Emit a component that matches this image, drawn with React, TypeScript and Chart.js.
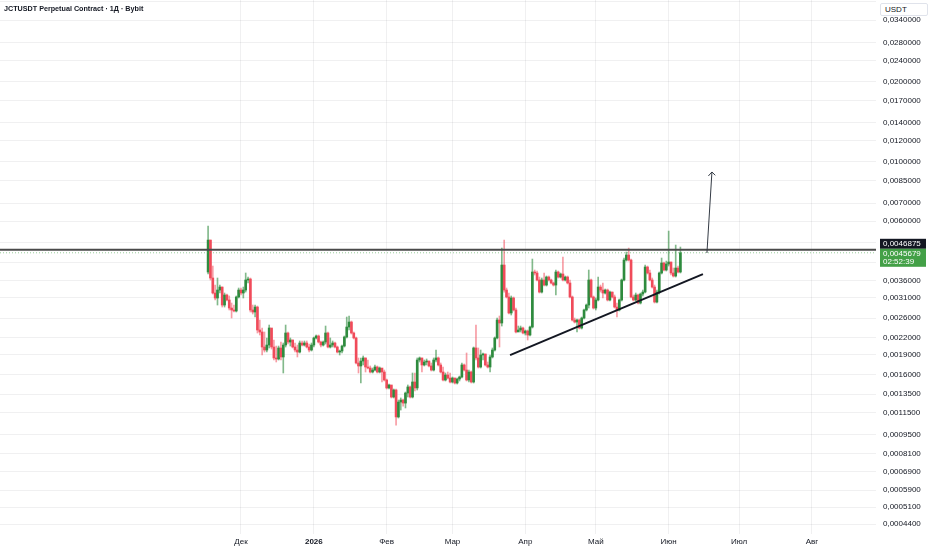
import React, { useEffect, useRef } from 'react';
import { Chart, registerables } from 'chart.js';

Chart.register(...registerables);

// ---- data ----
const firstDate = '2025-11-17';
const firstOpen = 0.00387;

const closes = [
  0.005098, 0.003675, 0.003229, 0.003093, 0.003313, 0.0034, 0.002911, 0.003174, 0.00304, 0.002837,
  0.002789, 0.002765, 0.00312, 0.003313, 0.003229, 0.003313, 0.003612, 0.003643, 0.002789, 0.002741,
  0.002861, 0.002347, 0.002307, 0.002027, 0.001975, 0.002062, 0.002388, 0.002027, 0.001844, 0.001828,
  0.00201, 0.00186, 0.002062, 0.002287, 0.002116, 0.002153, 0.002027, 0.001975, 0.001941, 0.002098,
  0.002062, 0.002098, 0.002027, 0.001975, 0.002062, 0.002191, 0.002229, 0.002116, 0.002062, 0.002116,
  0.002287, 0.002027, 0.002062, 0.002098, 0.002027, 0.001941, 0.001958, 0.002044, 0.00221, 0.002408,
  0.002514, 0.002287, 0.002191, 0.001766, 0.001721, 0.001796, 0.001844, 0.001706, 0.001691, 0.001634,
  0.001662, 0.001706, 0.001634, 0.001691, 0.001634, 0.001525, 0.001424, 0.001461, 0.001317, 0.001399,
  0.001109, 0.001261, 0.001283, 0.00125, 0.001363, 0.001436, 0.001317, 0.001499, 0.001424, 0.001812,
  0.001844, 0.001736, 0.001781, 0.001796, 0.001721, 0.001662, 0.001812, 0.001844, 0.001736, 0.001634,
  0.001525, 0.001592, 0.001551, 0.001499, 0.001551, 0.001486, 0.001538, 0.001565, 0.001736, 0.001662,
  0.001525, 0.001634, 0.001499, 0.00201, 0.001844, 0.001706, 0.001892, 0.001908, 0.001736, 0.001706,
  0.00186, 0.001975, 0.002191, 0.002558, 0.002493, 0.00411, 0.003313, 0.00312, 0.002718, 0.003093,
  0.002789, 0.002307, 0.002347, 0.002388, 0.002287, 0.002327, 0.002248, 0.002408, 0.00387, 0.003837,
  0.003612, 0.003256, 0.003612, 0.003459, 0.003706, 0.003612, 0.00352, 0.003459, 0.00387, 0.003706,
  0.003804, 0.003612, 0.003706, 0.00352, 0.00312, 0.002558, 0.002514, 0.002558, 0.002388, 0.002603,
  0.002789, 0.002911, 0.003612, 0.00312, 0.002837, 0.00304, 0.0034, 0.003313, 0.003229, 0.003313,
  0.00304, 0.003256, 0.00312, 0.002861, 0.002789, 0.00304, 0.003612, 0.004291, 0.00448, 0.004291,
  0.00312, 0.00304, 0.003174, 0.002962, 0.003201, 0.003256, 0.00404, 0.003837, 0.003612, 0.0034,
  0.002988, 0.003256, 0.003837, 0.004182, 0.003937, 0.004146, 0.004218, 0.003837, 0.003739, 0.004005,
  0.00387, 0.0045679,
];

const highs = [
  0.005752, 0.005098, 0.004075, 0.003459, 0.003675, 0.003459, 0.0034, 0.003229, 0.003201, 0.003147,
  0.002962, 0.002911, 0.003147, 0.003371, 0.003371, 0.0034, 0.003837, 0.003706, 0.003675, 0.002911,
  0.002911, 0.002886, 0.002558, 0.002388, 0.002307, 0.002191, 0.00245, 0.002347, 0.002153, 0.002044,
  0.002044, 0.002116, 0.002098, 0.00245, 0.002307, 0.002191, 0.002153, 0.002098, 0.002062, 0.002135,
  0.002135, 0.002135, 0.002135, 0.00208, 0.002098, 0.00221, 0.002248, 0.002248, 0.002135, 0.002135,
  0.002429, 0.002307, 0.002191, 0.002135, 0.002116, 0.002044, 0.001975, 0.002062, 0.002229, 0.002625,
  0.002648, 0.002536, 0.002307, 0.00221, 0.001844, 0.001844, 0.001876, 0.001844, 0.001812, 0.001721,
  0.001691, 0.001736, 0.001721, 0.001706, 0.001677, 0.001662, 0.001538, 0.001473, 0.001448, 0.001411,
  0.001411, 0.001283, 0.001306, 0.001295, 0.001375, 0.001461, 0.001448, 0.00162, 0.00162, 0.001844,
  0.00186, 0.001844, 0.001812, 0.001828, 0.001796, 0.001766, 0.001844, 0.001975, 0.00186, 0.001766,
  0.001706, 0.00162, 0.001634, 0.00162, 0.001565, 0.001551, 0.001551, 0.001578, 0.001766, 0.001751,
  0.001925, 0.001662, 0.001648, 0.002027, 0.00245, 0.00201, 0.001975, 0.001925, 0.001908, 0.001781,
  0.001892, 0.00201, 0.00221, 0.002603, 0.002648, 0.004758, 0.005098, 0.003371, 0.003229, 0.003147,
  0.00312, 0.002837, 0.002429, 0.002429, 0.002408, 0.002347, 0.002347, 0.002429, 0.004328, 0.003937,
  0.003903, 0.003706, 0.003675, 0.003837, 0.003739, 0.003739, 0.003643, 0.00355, 0.003937, 0.003903,
  0.003837, 0.004403, 0.003739, 0.003739, 0.003612, 0.003147, 0.002603, 0.00258, 0.00258, 0.002625,
  0.002812, 0.002937, 0.003937, 0.003643, 0.003147, 0.003093, 0.003706, 0.003459, 0.00352, 0.003342,
  0.003342, 0.003285, 0.003256, 0.003174, 0.002962, 0.003066, 0.003643, 0.004366, 0.004597, 0.004758,
  0.004328, 0.003174, 0.003229, 0.003201, 0.003229, 0.003313, 0.00411, 0.004075, 0.003937, 0.003675,
  0.003459, 0.003313, 0.00387, 0.004366, 0.004218, 0.004254, 0.005509, 0.004218, 0.004005, 0.004883,
  0.004075, 0.0048,
];

const lows = [
  0.003804, 0.003612, 0.003201, 0.00304, 0.002911, 0.003229, 0.002861, 0.002861, 0.003014, 0.002789,
  0.002603, 0.002741, 0.002741, 0.003093, 0.003174, 0.003093, 0.003256, 0.00352, 0.002741, 0.002694,
  0.002625, 0.002287, 0.002248, 0.001892, 0.001941, 0.001941, 0.00201, 0.001992, 0.001812, 0.001781,
  0.001812, 0.001812, 0.00162, 0.002027, 0.00208, 0.002044, 0.00201, 0.001941, 0.00186, 0.001925,
  0.002044, 0.002044, 0.00201, 0.001941, 0.001958, 0.002027, 0.002172, 0.002098, 0.002027, 0.002044,
  0.00208, 0.00201, 0.00201, 0.002027, 0.00201, 0.001925, 0.001892, 0.001925, 0.002027, 0.002191,
  0.002347, 0.002267, 0.002172, 0.001751, 0.00162, 0.001486, 0.001736, 0.001634, 0.001677, 0.00162,
  0.00162, 0.001648, 0.00162, 0.00162, 0.001499, 0.001512, 0.001411, 0.001411, 0.001306, 0.001306,
  0.001034, 0.001099, 0.001177, 0.001218, 0.001198, 0.001317, 0.001306, 0.001306, 0.001387, 0.001399,
  0.001781, 0.001634, 0.001721, 0.001736, 0.001706, 0.001648, 0.001648, 0.001781, 0.001721, 0.00162,
  0.001512, 0.001512, 0.001538, 0.001486, 0.001486, 0.001473, 0.001473, 0.001512, 0.001551, 0.001648,
  0.001512, 0.001499, 0.001486, 0.001486, 0.001812, 0.001691, 0.001691, 0.001812, 0.001721, 0.001691,
  0.001634, 0.001844, 0.001958, 0.002172, 0.002027, 0.002429, 0.003256, 0.003093, 0.002694, 0.002671,
  0.002765, 0.002287, 0.002327, 0.002307, 0.002267, 0.002248, 0.002153, 0.002229, 0.002388, 0.003771,
  0.003581, 0.003229, 0.003229, 0.003429, 0.003429, 0.003581, 0.00349, 0.003429, 0.003174, 0.003675,
  0.003675, 0.003581, 0.003581, 0.00349, 0.003093, 0.002536, 0.002493, 0.002307, 0.002367, 0.002367,
  0.00258, 0.002765, 0.002837, 0.003093, 0.002812, 0.002789, 0.003014, 0.003256, 0.003093, 0.003201,
  0.003014, 0.003014, 0.003093, 0.002837, 0.002625, 0.002765, 0.003014, 0.003581, 0.004254, 0.004254,
  0.003093, 0.003014, 0.003014, 0.002937, 0.002937, 0.003147, 0.003229, 0.003804, 0.003581, 0.003371,
  0.002962, 0.002962, 0.003201, 0.003804, 0.003903, 0.003903, 0.004075, 0.003771, 0.003706, 0.003706,
  0.003837, 0.003837,
];

const monthStarts = ['2025-12-01', '2026-01-01', '2026-02-01', '2026-03-01', '2026-04-01', '2026-05-01', '2026-06-01', '2026-07-01', '2026-08-01'];
const monthLabels = ['Дек', '2026', 'Фев', 'Мар', 'Апр', 'Май', 'Июн', 'Июл', 'Авг'];

const priceTicks = [0.04, 0.034, 0.028, 0.024, 0.02, 0.017, 0.014, 0.012, 0.01, 0.0085, 0.007, 0.006, 0.005, 0.0042, 0.0036, 0.0031, 0.0026, 0.0022, 0.0019, 0.0016, 0.00135, 0.00115, 0.00095, 0.00081, 0.00069, 0.00059, 0.00051, 0.00044];
const hiddenPriceTicks = [0.04, 0.005, 0.0042];

const resistanceLevel = 0.0046875;
const lastPrice = 0.0045679;
const countdown = '02:52:39';

const trendLine: [string, number][] = [['2026-03-25T12:00:00Z', 0.00189], ['2026-06-15T14:00:00Z', 0.0038]];
const arrowShaft: [string, number][] = [['2026-06-17T07:00:00Z', 0.00456], ['2026-06-19T10:00:00Z', 0.00917]];
const arrowHead: [string, number][] = [['2026-06-17T22:00:00Z', 0.00886], ['2026-06-19T10:00:00Z', 0.00917], ['2026-06-20T20:00:00Z', 0.00891]];

const titleText = 'JCTUSDT Perpetual Contract · 1Д · Bybit';
const currencyText = 'USDT';

// ---- view / style ----
const X_MIN = -102.56;
const X_MAX = 270.24;
const Y_MIN = 0.0004041;
const Y_MAX = 0.04041;
const FONT = '"Liberation Sans", Arial, sans-serif';
const UP = '#2e8b3e';
const DOWN = '#f04b5a';
const UP_WICK = 'rgba(46,139,62,0.6)';
const DOWN_WICK = 'rgba(240,75,90,0.55)';
const GRID = 'rgba(42,46,57,0.07)';
const TEXT = '#131722';

const fmtPrice = (v: number) => v.toFixed(7).replace('.', ',');

export default function App() {
  const ref = useRef<HTMLCanvasElement>(null);

  useEffect(() => {
    document.body.style.margin = '0';
    const base = Date.parse('2025-12-01T00:00:00Z');
    const day = (s: string) => (Date.parse(s.length === 10 ? s + 'T00:00:00Z' : s) - base) / 86400000;
    const x0 = day(firstDate);
    const opens = closes.map((c, i) => (i === 0 ? firstOpen : closes[i - 1]));
    const isUp = closes.map((c, i) => c >= opens[i]);
    const wickData = closes.map((c, i) => ({ x: x0 + i, y: [lows[i], highs[i]] }));
    const bodyData = closes.map((c, i) => ({ x: x0 + i, y: [opens[i], c] }));
    const monthDays = monthStarts.map(day);
    const toPts = (arr: [string, number][]) => arr.map(([d, v]) => ({ x: day(d), y: v }));

    const priceLabels = {
      id: 'priceLabels',
      afterDraw(chart: any) {
        const { ctx } = chart;
        const ys = chart.scales.y;
        const yr = ys.getPixelForValue(resistanceLevel);
        const bx = ys.left + 4;
        const bw = 46;
        ctx.save();
        ctx.font = `8px ${FONT}`;
        ctx.textBaseline = 'middle';
        ctx.textAlign = 'left';
        ctx.fillStyle = '#131722';
        ctx.fillRect(bx, yr - 11, bw, 10);
        ctx.fillStyle = '#ffffff';
        ctx.fillText(fmtPrice(resistanceLevel), bx + 3, yr - 6);
        ctx.fillStyle = '#43a047';
        ctx.fillRect(bx, yr - 1, bw, 18);
        ctx.fillStyle = '#ffffff';
        ctx.fillText(fmtPrice(lastPrice), bx + 3, yr + 4);
        ctx.fillText(countdown, bx + 3, yr + 12.5);
        ctx.restore();
      },
    };

    const chart = new Chart(ref.current as HTMLCanvasElement, {
      type: 'bar',
      data: {
        datasets: [
          { type: 'line', data: toPts(trendLine), borderColor: '#131722', borderWidth: 2, pointRadius: 0, order: 0 } as any,
          { type: 'line', data: toPts(arrowShaft), borderColor: '#333a44', borderWidth: 1, pointRadius: 0, order: 0 } as any,
          { type: 'line', data: toPts(arrowHead), borderColor: '#333a44', borderWidth: 1, pointRadius: 0, order: 0 } as any,
          {
            type: 'line',
            data: [{ x: X_MIN, y: resistanceLevel }, { x: X_MAX, y: resistanceLevel }],
            borderColor: '#4a4a4a',
            borderWidth: 2,
            pointRadius: 0,
            order: 0,
          } as any,
          {
            type: 'line',
            data: [{ x: X_MIN, y: lastPrice }, { x: X_MAX, y: lastPrice }],
            borderColor: 'rgba(67,160,71,0.55)',
            borderWidth: 1,
            borderDash: [1, 2],
            pointRadius: 0,
            order: 0,
          } as any,
          {
            type: 'bar',
            data: bodyData as any,
            backgroundColor: isUp.map((u) => (u ? UP : DOWN)),
            barThickness: 2,
            minBarLength: 1,
            grouped: false,
            borderWidth: 0,
            order: 1,
          } as any,
          {
            type: 'bar',
            data: wickData as any,
            backgroundColor: isUp.map((u) => (u ? UP_WICK : DOWN_WICK)),
            barThickness: 1,
            grouped: false,
            borderWidth: 0,
            order: 2,
          } as any,
        ],
      },
      options: {
        responsive: false,
        animation: false,
        events: [],
        layout: { padding: 0 },
        plugins: { legend: { display: false }, tooltip: { enabled: false }, title: { display: false } },
        scales: {
          x: {
            type: 'linear',
            position: 'bottom',
            min: X_MIN,
            max: X_MAX,
            offset: false,
            grid: { color: GRID, drawTicks: false, lineWidth: 1, offset: false },
            border: { display: false },
            afterBuildTicks: (axis: any) => {
              axis.ticks = monthDays.map((v) => ({ value: v }));
            },
            afterFit: (axis: any) => {
              axis.height = 16;
              axis.paddingLeft = 0;
              axis.paddingRight = 0;
            },
            ticks: {
              autoSkip: false,
              maxRotation: 0,
              padding: 3,
              color: TEXT,
              font: (c: any) => ({ family: FONT, size: 8, weight: c.index === 1 ? 'bold' : 'normal' }),
              callback: (_v: any, i: number) => monthLabels[i],
            },
          },
          y: {
            type: 'logarithmic',
            position: 'right',
            min: Y_MIN,
            max: Y_MAX,
            grid: { color: GRID, drawTicks: false, lineWidth: 1, offset: false },
            border: { display: false },
            afterBuildTicks: (axis: any) => {
              axis.ticks = priceTicks.map((v) => ({ value: v }));
            },
            afterFit: (axis: any) => {
              axis.width = 56;
              axis.paddingTop = 0;
              axis.paddingBottom = 0;
            },
            ticks: {
              autoSkip: false,
              padding: 7,
              color: TEXT,
              font: { family: FONT, size: 8 },
              callback: (v: any) => (hiddenPriceTicks.includes(Number(v)) ? '' : fmtPrice(Number(v))),
            },
          },
        },
      } as any,
      plugins: [priceLabels],
    });
    return () => chart.destroy();
  }, []);

  return (
    <div style={{ position: 'relative', width: 932, height: 550, background: '#ffffff', overflow: 'hidden' }}>
      <canvas ref={ref} width={932} height={550} style={{ display: 'block' }} />
      <div
        style={{
          position: 'absolute',
          left: 4,
          top: 4,
          font: `bold 7.2px ${FONT}`,
          lineHeight: '10px',
          color: TEXT,
          whiteSpace: 'nowrap',
        }}
      >
        {titleText}
      </div>
      <div
        style={{
          position: 'absolute',
          left: 880,
          top: 3,
          width: 48,
          height: 13,
          boxSizing: 'border-box',
          border: '1px solid #e0e3eb',
          borderRadius: 2,
          background: '#ffffff',
          font: `8px ${FONT}`,
          lineHeight: '11px',
          paddingLeft: 4,
          color: TEXT,
        }}
      >
        {currencyText}
      </div>
    </div>
  );
}
